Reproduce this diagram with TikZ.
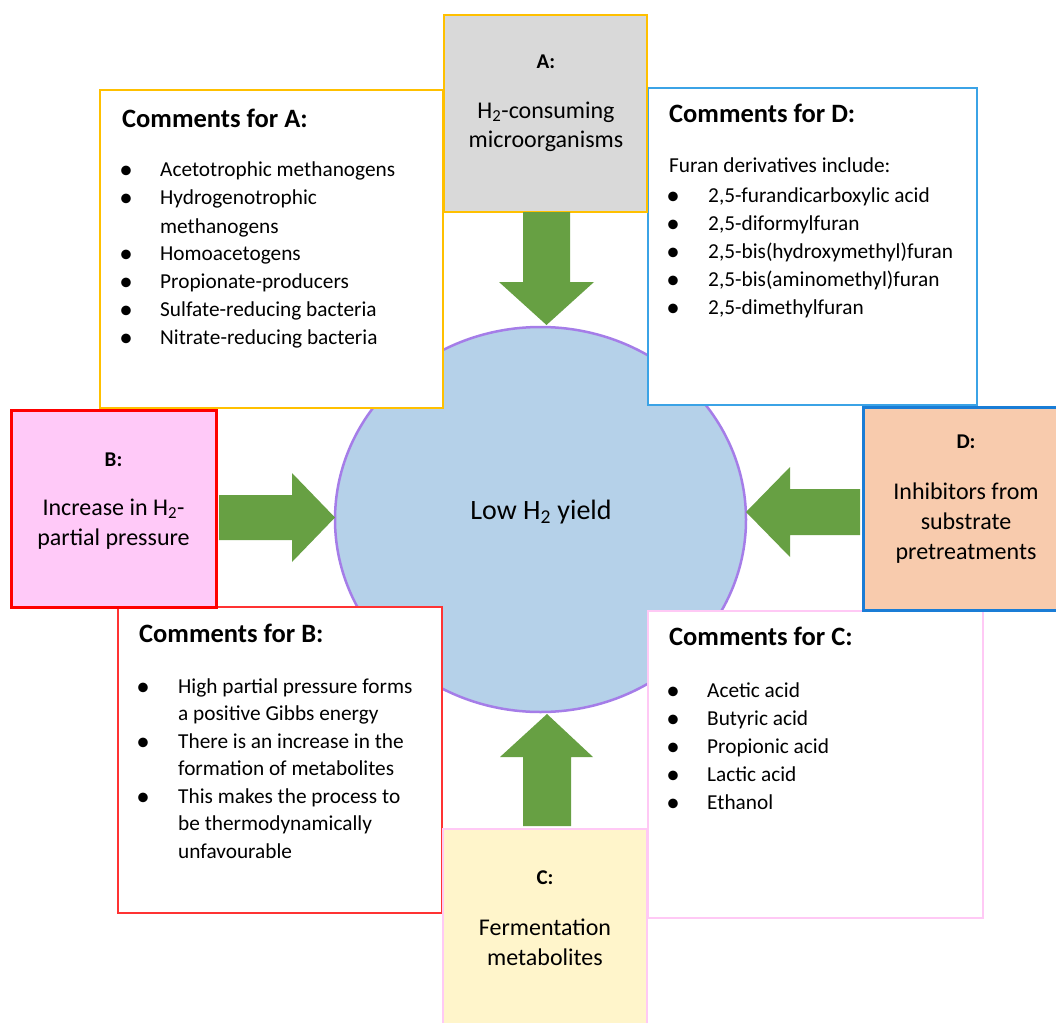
\documentclass[tikz,border=0pt]{standalone}
\usepackage{fontspec}
\setmainfont{Carlito}
\usetikzlibrary{calc,shapes.geometric}
\definecolor{orangeline}{HTML}{FFC000}
\definecolor{grayfill}{HTML}{D9D9D9}
\definecolor{lightblueline}{HTML}{3BA3E6}
\definecolor{blueline}{HTML}{1A7DD6}
\definecolor{peachfill}{HTML}{F8CBAD}
\definecolor{redline}{HTML}{FF0000}
\definecolor{lightredline}{HTML}{FF3333}
\definecolor{pinkfill}{HTML}{FFC9F8}
\definecolor{pinkline}{HTML}{FFC9F5}
\definecolor{yellowfill}{HTML}{FFF5CB}
\definecolor{circlefill}{HTML}{B5D1E9}
\definecolor{circleline}{HTML}{A57DE8}
\definecolor{arrowgreen}{HTML}{67A043}
\begin{document}
\begin{tikzpicture}[x=1pt,y=-1pt,
  panel/.style={rectangle, inner sep=0pt, outer sep=0pt},
  title/.style={anchor=base west, inner sep=0pt, font=\fontsize{26.5}{32}\selectfont\bfseries},
  item/.style={anchor=base west, inner sep=0pt, font=\fontsize{21.3}{26}\selectfont},
  bul/.style={anchor=base, inner sep=0pt, font=\fontsize{27}{30}\selectfont},
  lab/.style={anchor=base, inner sep=0pt, font=\fontsize{21}{25}\selectfont\bfseries},
  boxtext/.style={anchor=base, inner sep=0pt, font=\fontsize{24}{29}\selectfont},
  blockarrow/.style={fill=arrowgreen, draw=none}
]
\useasboundingbox (0,0) rectangle (1056,1022);
\clip (0,0) rectangle (1056,1022);

% central ellipse
\node[ellipse, draw=circleline, line width=2.5pt, fill=circlefill, inner sep=0pt,
      minimum width=411pt, minimum height=385pt] (core) at (540.5,519.5) {};
\node[anchor=base, inner sep=0pt, font=\fontsize{28}{34}\selectfont] (coreT) at (541,519) {Low H\textsubscript{2} yield};

% comment panels
\node[panel, draw=orangeline, line width=2.5pt, fill=white, minimum width=343pt, minimum height=318pt] (commA) at (271.5,249) {};
\node[panel, draw=lightblueline, line width=2pt, fill=white, minimum width=329pt, minimum height=317pt] (commD) at (812.5,246.5) {};
\node[panel, draw=lightredline, line width=1.5pt, fill=white, minimum width=324pt, minimum height=306pt] (commB) at (280,760) {};
\node[panel, draw=pinkline, line width=1.5pt, fill=white, minimum width=335pt, minimum height=307pt] (commC) at (815.5,764.5) {};

% cause boxes
\node[panel, draw=orangeline, line width=2.5pt, fill=grayfill, minimum width=203pt, minimum height=197pt] (boxA) at (545.5,113.5) {};
\node[panel, draw=redline, line width=3pt, fill=pinkfill, minimum width=205pt, minimum height=197pt] (boxB) at (113.5,508.5) {};
\node[panel, draw=pinkline, line width=2pt, fill=yellowfill, minimum width=204pt, minimum height=198pt] (boxC) at (545,928) {};
\node[panel, draw=blueline, line width=3pt, fill=peachfill, minimum width=206pt, minimum height=203pt] (boxD) at (966,508.5) {};

% box texts
\node[lab] (labA) at (546,69) {A:};
\node[boxtext] (tA1) at (546,118) {H\textsubscript{2}-consuming};
\node[boxtext] (tA2) at (546,147) {microorganisms};

\node[lab] (labB) at (113.5,466) {B:};
\node[boxtext] (tB1) at (113.5,515) {Increase in H\textsubscript{2}-};
\node[boxtext] (tB2) at (113.5,545) {partial pressure};

\node[lab] (labC) at (545,884) {C:};
\node[boxtext] (tC1) at (545,935) {Fermentation};
\node[boxtext] (tC2) at (545,965) {metabolites};

\node[lab] (labD) at (966,448) {D:};
\node[boxtext] (tD1) at (966,499) {Inhibitors from};
\node[boxtext] (tD2) at (966,529) {substrate};
\node[boxtext] (tD3) at (966,559) {pretreatments};

% block arrows
\fill[blockarrow] ($(boxA.south)+(-22.5,0)$) -- ++(0,70) -- ++(-24,0) -- ++(47.5,43) -- ++(47.5,-43) -- ++(-24,0) -- ++(0,-70) -- cycle;
\fill[blockarrow] ($(boxB.east)+(3,-13.5)$) -- ++(73,0) -- ++(0,-22) -- ++(43,44.5) -- ++(-43,44.5) -- ++(0,-22) -- ++(-73,0) -- cycle;
\fill[blockarrow] ($(boxC.north)+(-22,-3)$) -- ++(0,-69) -- ++(-23,0) -- ++(47,-43) -- ++(46,43) -- ++(-22,0) -- ++(0,69) -- cycle;
\fill[blockarrow] ($(boxD.west)+(-3,-19.5)$) -- ++(-70,0) -- ++(0,-22) -- ++(-44,45) -- ++(44,45) -- ++(0,-22) -- ++(70,0) -- cycle;

% Comments for A
\node[title] (caT) at (122,127) {Comments for A:};
\foreach \t/\y [count=\i] in {Acetotrophic methanogens/176, Hydrogenotrophic/204, methanogens/233, Homoacetogens/260, Propionate-producers/288, Sulfate-reducing bacteria/316, Nitrate-reducing bacteria/344}
  \node[item] (ca-\i) at (160,\y) {\t};
\foreach \y [count=\i] in {176,204,260,288,316,344}
  \node[bul] (cab-\i) at (126,\y+2) {•};

% Comments for D
\node[title] (cdT) at (669,122) {Comments for D:};
\node[item] (cd-0) at (669,172) {Furan derivatives include:};
\foreach \t/\y [count=\i] in {{2,5-furandicarboxylic acid}/202, {2,5-diformylfuran}/230, {2,5-bis(hydroxymethyl)furan}/258, {2,5-bis(aminomethyl)furan}/286, {2,5-dimethylfuran}/314}
  {\node[item] (cd-\i) at (708,\y) {\t};
   \node[bul] (cdb-\i) at (673,\y+2) {•};}

% Comments for B
\node[title] (cbT) at (139,642) {Comments for B:};
\foreach \t/\y [count=\i] in {High partial pressure forms/693, a positive Gibbs energy/720, There is an increase in the/748, formation of metabolites/775, This makes the process to/803, be thermodynamically/830, unfavourable/858}
  \node[item] (cb-\i) at (178,\y) {\t};
\foreach \y [count=\i] in {693,748,803}
  \node[bul] (cbb-\i) at (143,\y+2) {•};

% Comments for C
\node[title] (ccT) at (669,645) {Comments for C:};
\foreach \t/\y [count=\i] in {Acetic acid/697, Butyric acid/725, Propionic acid/753, Lactic acid/781, Ethanol/809}
  {\node[item] (cc-\i) at (707,\y) {\t};
   \node[bul] (ccb-\i) at (673,\y+2) {•};}
\end{tikzpicture}
\end{document}
